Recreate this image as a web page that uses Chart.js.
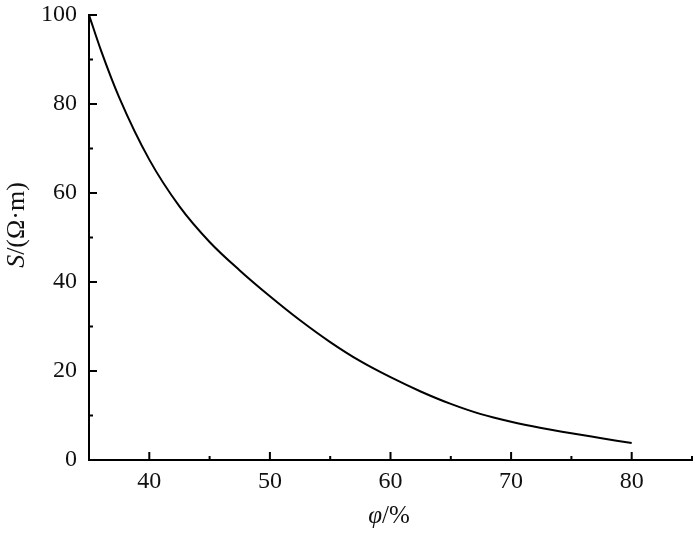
<!doctype html>
<html>
<head>
<meta charset="utf-8" />
<script src="https://cdn.jsdelivr.net/npm/chart.js"></script>
<style>
  html, body { margin: 0; padding: 0; background: #fff; }
  #wrap { width: 700px; height: 533px; position: relative; }
</style>
</head>
<body>
<div id="wrap"><canvas id="chart"></canvas></div>
<script>
// porosity (%) and resistivity
const phi = [35, 36, 37.5, 40, 42.5, 45, 47.5, 50, 52.5, 55, 57.5, 60, 62.5, 65, 67.5, 70, 72.5, 75, 77.5, 80];
const resist = [100, 92, 81.5, 67.5, 57, 49, 42.6, 36.8, 31.4, 26.5, 22.2, 18.6, 15.4, 12.6, 10.3, 8.6, 7.2, 6.0, 4.9, 3.8];

const xMajor = [40, 50, 60, 70, 80];
const xMinor = [45, 55, 65, 75, 85];
const yMajor = [0, 20, 40, 60, 80, 100];
const yMinor = [10, 30, 50, 70, 90];

const serif = '"Liberation Serif", "Times New Roman", serif';

// inward ticks + axis titles with italic symbols
const axisDeco = {
  id: 'axisDeco',
  afterDraw(chart) {
    const { ctx, scales: { x, y } } = chart;
    const left = x.left, bottom = y.bottom;
    ctx.save();
    ctx.strokeStyle = '#000';
    ctx.lineWidth = 2;
    ctx.beginPath();
    xMajor.forEach(v => { const p = x.getPixelForValue(v); ctx.moveTo(p, bottom); ctx.lineTo(p, bottom - 8); });
    xMinor.forEach(v => { const p = x.getPixelForValue(v); ctx.moveTo(p, bottom); ctx.lineTo(p, bottom - 4); });
    yMajor.forEach(v => { const p = y.getPixelForValue(v); ctx.moveTo(left, p); ctx.lineTo(left + 8, p); });
    yMinor.forEach(v => { const p = y.getPixelForValue(v); ctx.moveTo(left, p); ctx.lineTo(left + 4, p); });
    ctx.stroke();

    ctx.fillStyle = '#111';
    ctx.textBaseline = 'middle';
    ctx.textAlign = 'left';
    // x title: φ/%
    const parts = [['italic 25px ' + serif, 'φ'], ['25px ' + serif, '/%']];
    let w = 0;
    parts.forEach(([f, t]) => { ctx.font = f; w += ctx.measureText(t).width; });
    let cx = 389 - w / 2;
    parts.forEach(([f, t]) => { ctx.font = f; ctx.fillText(t, cx, 516); cx += ctx.measureText(t).width; });

    // y title: S/(Ω·m)
    ctx.translate(17, 225);
    ctx.rotate(-Math.PI / 2);
    const yparts = [['italic 26px ' + serif, 'S'], ['26px ' + serif, '/(Ω·m)']];
    w = 0;
    yparts.forEach(([f, t]) => { ctx.font = f; w += ctx.measureText(t).width; });
    cx = -w / 2;
    yparts.forEach(([f, t]) => { ctx.font = f; ctx.fillText(t, cx, 0); cx += ctx.measureText(t).width; });
    ctx.restore();
  }
};

new Chart(document.getElementById('chart'), {
  type: 'line',
  data: {
    datasets: [{
      data: phi.map((v, i) => ({ x: v, y: resist[i] })),
      borderColor: '#000',
      borderWidth: 2,
      pointRadius: 0,
      cubicInterpolationMode: 'monotone',
      fill: false
    }]
  },
  options: {
    responsive: true,
    maintainAspectRatio: false,
    animation: false,
    layout: { padding: { top: 15, right: 8, left: 0, bottom: 0 } },
    plugins: { legend: { display: false }, tooltip: { enabled: false } },
    scales: {
      x: {
        type: 'linear', min: 35, max: 85,
        afterBuildTicks: s => { s.ticks = xMajor.map(v => ({ value: v })); },
        afterFit: s => { s.height = 73; s.paddingLeft = 0; s.paddingRight = 0; },
        grid: { display: false, drawTicks: false },
        border: { display: true, color: '#000', width: 2 },
        ticks: { color: '#111', padding: 7, font: { family: serif, size: 24 } }
      },
      y: {
        type: 'linear', min: 0, max: 100,
        afterBuildTicks: s => { s.ticks = yMajor.map(v => ({ value: v })); },
        afterFit: s => { s.width = 89; s.paddingTop = 0; s.paddingBottom = 0; },
        grid: { display: false, drawTicks: false },
        border: { display: true, color: '#000', width: 2 },
        ticks: { color: '#111', padding: 12, font: { family: serif, size: 24 } }
      }
    }
  },
  plugins: [axisDeco]
});
</script>
</body>
</html>
